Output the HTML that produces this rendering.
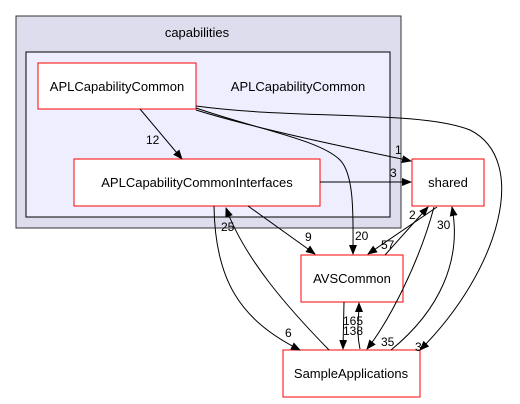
<!DOCTYPE html>
<html><head><meta charset="utf-8"><style>
html,body{margin:0;padding:0;background:#fff;}
svg{display:block;font-family:"Liberation Sans",Arial,sans-serif;}
</style></head><body>
<svg width="520" height="404" viewBox="0 0 520 404" xmlns="http://www.w3.org/2000/svg">
<defs><marker id="a" markerWidth="10" markerHeight="8" refX="9" refY="4" orient="auto" markerUnits="userSpaceOnUse"><path d="M0,0 L10,4 L0,8 z" fill="#000"/></marker></defs>
<rect x="16" y="16" width="385" height="212" fill="#ddddee" stroke="#333" stroke-width="1"/>
<text x="197" y="37" font-size="13" text-anchor="middle">capabilities</text>
<rect x="26" y="52" width="364" height="165" fill="#eeeeff" stroke="#000" stroke-width="1"/>
<text x="298" y="91" font-size="13" text-anchor="middle">APLCapabilityCommon</text>
<g fill="#fff" stroke="#f00" stroke-width="1">
<rect x="38" y="63" width="158" height="46"/>
<rect x="74" y="159" width="246" height="47"/>
<rect x="412" y="159" width="72" height="47"/>
<rect x="301" y="255" width="102" height="47"/>
<rect x="283" y="350" width="137" height="47"/>
</g>
<g font-size="13" text-anchor="middle" fill="#000">
<text x="117" y="91">APLCapabilityCommon</text>
<text x="197" y="187">APLCapabilityCommonInterfaces</text>
<text x="448" y="187">shared</text>
<text x="352" y="283">AVSCommon</text>
<text x="351" y="378">SampleApplications</text>
</g>
<g fill="none" stroke="#000" stroke-width="1" marker-end="url(#a)">
<path d="M140,109 L182,159"/>
<path d="M196,110 C260,130 360,150 411,161"/>
<path d="M196,108 C260,130 320,140 340,160 C355,175 353,220 353,254"/>
<path d="M196,106 C300,120 420,110 470,130 C530,160 500,270 420,350"/>
<path d="M320,182 L411,182"/>
<path d="M248,206 L315,254"/>
<path d="M214,206 C215,280 240,320 300,350"/>
<path d="M329,350 C290,310 245,260 226,208"/>
<path d="M385,255 L428,207"/>
<path d="M437,207 L368,254"/>
<path d="M434,207 C420,260 390,320 367,349"/>
<path d="M391,350 C440,310 462,260 452,207"/>
<path d="M344,302 L343,349"/>
<path d="M360,349 C356,330 359,320 359,303"/>
</g>
<g font-size="12" fill="#000">
<text x="146" y="144">12</text>
<text x="395" y="154">1</text>
<text x="390" y="177">3</text>
<text x="355" y="240">20</text>
<text x="305" y="241">9</text>
<text x="221" y="231">25</text>
<text x="285" y="337">6</text>
<text x="409" y="219">2</text>
<text x="381" y="249">57</text>
<text x="437" y="229">30</text>
<text x="343" y="325">165</text>
<text x="343" y="335">138</text>
<text x="381" y="346">35</text>
<text x="415" y="351">3</text>
</g>
</svg>
</body></html>
